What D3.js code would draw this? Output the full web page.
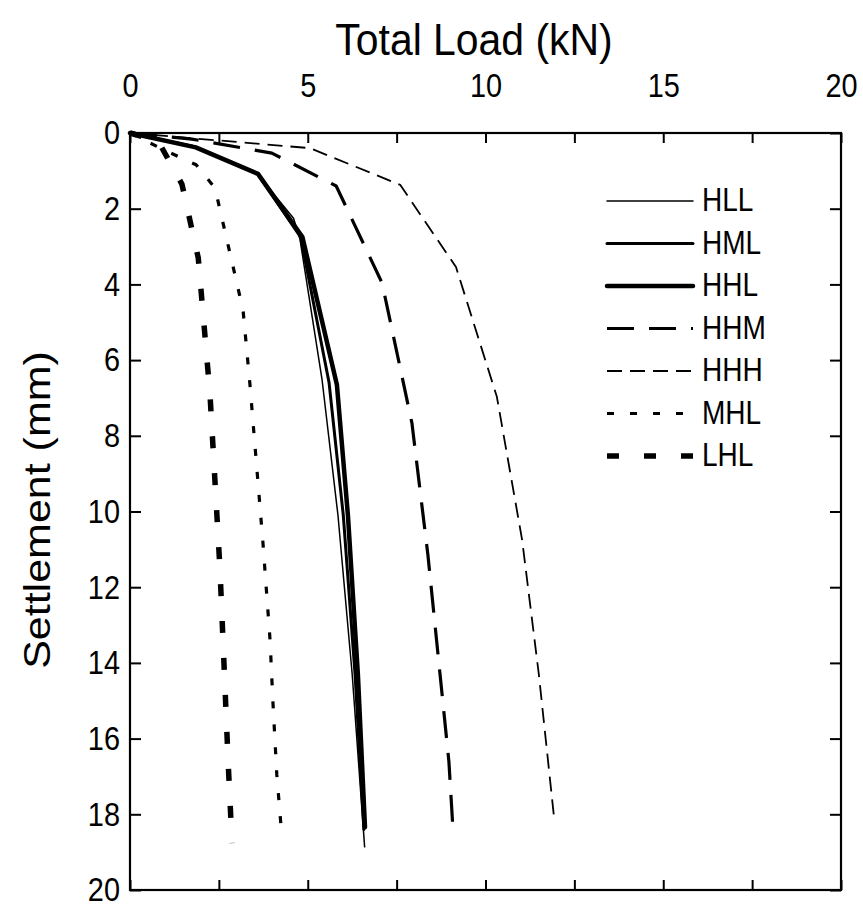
<!DOCTYPE html>
<html>
<head>
<meta charset="utf-8">
<script src="https://cdn.jsdelivr.net/npm/d3@7"></script>
<style>
    body { margin: 0; background: #fff; }
    svg text { font-family: "Liberation Sans", Arial, sans-serif; fill: #000; }
</style>
</head>
<body>
<svg id="chart" width="863" height="909"></svg>
<script>
// Load (kN) and settlement (mm)
const seriesNames = ["HLL", "HML", "HHL", "HHM", "HHH", "MHL", "LHL"];

const hllLoad   = [0, 1.75, 3.55, 4.6, 4.78, 5.4, 5.85, 6.25, 6.6];
const hllSettle = [0, 0.33, 1.05, 2.25, 2.8, 6.5, 10.1, 14.3, 18.86];

const hmlLoad   = [0, 1.8, 3.58, 4.8, 5.6, 6.0, 6.33, 6.58];
const hmlSettle = [0, 0.36, 1.07, 2.75, 6.6, 10.1, 14.3, 18.4];

const hhlLoad   = [0, 1.85, 3.6, 4.85, 5.82, 6.13, 6.41, 6.61];
const hhlSettle = [0, 0.38, 1.08, 2.75, 6.65, 10.1, 14.3, 18.34];

const hhmLoad   = [0, 1.74, 3.99, 5.8, 7.09, 7.93, 8.38, 8.97, 9.09];
const hhmSettle = [0, 0.16, 0.53, 1.4, 3.96, 7.66, 11.15, 16.6, 18.47];

const hhhLoad   = [0, 5.06, 7.6, 9.17, 10.32, 11.03, 11.5, 11.93];
const hhhSettle = [0, 0.4, 1.37, 3.54, 6.97, 10.75, 14.3, 18.1];

const mhlLoad   = [0, 0.96, 1.86, 2.39, 3.18, 3.37, 3.74, 3.94, 4.02, 4.13, 4.25];
const mhlSettle = [0, 0.45, 0.84, 1.45, 4.68, 6.6, 10.83, 13.4, 15.03, 16.96, 18.33];

const lhlLoad   = [0, 0.79, 1.46, 1.92, 2.25, 2.53, 2.76, 2.87];
const lhlSettle = [0, 0.21, 1.35, 3.3, 6.9, 11.5, 16.6, 18.76];

const loadTicks = [0, 2.5, 5, 7.5, 10, 12.5, 15, 17.5, 20];
const settleTicks = [0, 2, 4, 6, 8, 10, 12, 14, 16, 18, 20];

// line look for each series
const lineStyle = {
    "HLL": { width: 1.5, dash: null },
    "HML": { width: 3, dash: null },
    "HHL": { width: 4.5, dash: null },
    "HHM": { width: 3.2, dash: "27,15" },
    "HHH": { width: 1.8, dash: "15,8" },
    "MHL": { width: 3.2, dash: "7,16" },
    "LHL": { width: 5.5, dash: "12,25" }
};

const seriesData = {
    "HLL": d3.zip(hllLoad, hllSettle),
    "HML": d3.zip(hmlLoad, hmlSettle),
    "HHL": d3.zip(hhlLoad, hhlSettle),
    "HHM": d3.zip(hhmLoad, hhmSettle),
    "HHH": d3.zip(hhhLoad, hhhSettle),
    "MHL": d3.zip(mhlLoad, mhlSettle),
    "LHL": d3.zip(lhlLoad, lhlSettle)
};

// the picture is a little squeezed sideways, so text is too
const squeeze = 0.85;

let plot = { left: 130, right: 841, top: 133, bottom: 890 };

let svg = d3.select("#chart");

let xScale = d3.scaleLinear()
               .domain([0, 20])
               .range([plot.left, plot.right]);

let yScale = d3.scaleLinear()
               .domain([0, 20])
               .range([plot.top, plot.bottom]);

// top axis carries the labels, the other three only ticks
let topAxis = d3.axisTop(xScale)
                .tickValues(loadTicks)
                .tickSize(-10)
                .tickSizeOuter(0)
                .tickPadding(36)
                .tickFormat(d => d % 5 === 0 ? d : "");

let bottomAxis = d3.axisBottom(xScale)
                   .tickValues(loadTicks)
                   .tickSize(-10)
                   .tickSizeOuter(0)
                   .tickFormat("");

let leftAxis = d3.axisLeft(yScale)
                 .tickValues(settleTicks)
                 .tickSize(-11)
                 .tickSizeOuter(0)
                 .tickPadding(10)
                 .tickFormat(d => d);

let rightAxis = d3.axisRight(yScale)
                  .tickValues(settleTicks)
                  .tickSize(-11)
                  .tickSizeOuter(0)
                  .tickFormat("");

function styleAxis(g) {
    g.select(".domain").remove();
    g.selectAll(".tick line").attr("stroke", "#000").attr("stroke-width", 2);
    g.selectAll(".tick text").attr("font-size", 34);
}

svg.append("g")
   .attr("transform", "translate(0," + plot.top + ")")
   .call(topAxis)
   .call(styleAxis)
   .selectAll(".tick text")
   .attr("transform", "scale(" + squeeze + ",1)");

svg.append("g")
   .attr("transform", "translate(0," + plot.bottom + ")")
   .call(bottomAxis)
   .call(styleAxis);

svg.append("g")
   .attr("transform", "translate(" + plot.left + ",0)")
   .call(leftAxis)
   .call(styleAxis)
   .selectAll(".tick text")
   .attr("x", -10 / squeeze)
   .attr("transform", "scale(" + squeeze + ",1)");

svg.append("g")
   .attr("transform", "translate(" + plot.right + ",0)")
   .call(rightAxis)
   .call(styleAxis);

// plot frame
svg.append("rect")
   .attr("x", plot.left)
   .attr("y", plot.top)
   .attr("width", plot.right - plot.left)
   .attr("height", plot.bottom - plot.top)
   .attr("fill", "none")
   .attr("stroke", "#000")
   .attr("stroke-width", 2.2);

// curves
let line = d3.line()
             .x(d => xScale(d[0]))
             .y(d => yScale(d[1]));

svg.append("g")
   .selectAll("path")
   .data(seriesNames)
   .join("path")
   .attr("d", name => line(seriesData[name]))
   .attr("fill", "none")
   .attr("stroke", "#000")
   .attr("stroke-width", name => lineStyle[name].width)
   .attr("stroke-dasharray", name => lineStyle[name].dash)
   .attr("stroke-linejoin", "round")
   .attr("stroke-linecap", name => lineStyle[name].dash ? "butt" : "round");

// legend
let legend = { x1: 607, x2: 693, top: 201, step: 42.5 };

let legendRows = svg.append("g")
                    .selectAll("g")
                    .data(seriesNames)
                    .join("g")
                    .attr("transform", (d, i) => "translate(0," + (legend.top + i * legend.step) + ")");

legendRows.append("line")
          .attr("x1", legend.x1)
          .attr("x2", legend.x2)
          .attr("stroke", "#000")
          .attr("stroke-width", name => lineStyle[name].width)
          .attr("stroke-dasharray", name => lineStyle[name].dash)
          .attr("stroke-linecap", name => lineStyle[name].dash ? "butt" : "round");

legendRows.append("text")
          .attr("transform", "translate(702,10) scale(" + squeeze + ",1)")
          .attr("font-size", 33)
          .text(d => d);

// axis titles
svg.append("text")
   .attr("transform", "translate(474,55) scale(0.93,1)")
   .attr("text-anchor", "middle")
   .attr("font-size", 44)
   .text("Total Load (kN)");

svg.append("text")
   .attr("transform", "translate(50,510) scale(" + squeeze + ",1) rotate(-90)")
   .attr("text-anchor", "middle")
   .attr("font-size", 43)
   .text("Settlement (mm)");
</script>
</body>
</html>
